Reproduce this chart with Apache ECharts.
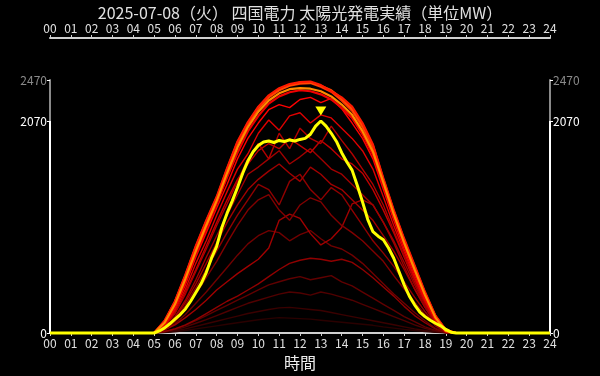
<!DOCTYPE html>
<html>
<head>
<meta charset="utf-8">
<script src="https://cdn.jsdelivr.net/npm/echarts@6/dist/echarts.min.js"></script>
<style>
html, body { margin: 0; padding: 0; background: #000; }
#chart { width: 600px; height: 376px; }
</style>
</head>
<body>
<div id="chart"></div>
<script>
var titleText = '2025-07-08（火） 四国電力 太陽光発電実績（単位MW）';
var yTop = 2470;

// 30分ごと (5:00 - 19:30)
var pastTimes = [5, 5.5, 6, 6.5, 7, 7.5, 8, 8.5, 9, 9.5, 10, 10.5, 11, 11.5, 12, 12.5,
    13, 13.5, 14, 14.5, 15, 15.5, 16, 16.5, 17, 17.5, 18, 18.5, 19, 19.5];

// 過去の実績 (暗い順)
var pastValues = [
    [0, 5, 12, 25, 40, 55, 70, 85, 100, 115, 130, 140, 150, 145, 140, 135, 125, 115, 105, 95, 85, 75, 60, 48, 35, 25, 15, 6, 1, 0],
    [0, 8, 20, 40, 65, 90, 115, 140, 165, 190, 210, 230, 245, 250, 240, 230, 220, 200, 180, 160, 140, 120, 100, 80, 60, 40, 25, 10, 1, 0],
    [0, 12, 30, 60, 95, 130, 170, 210, 250, 290, 320, 350, 380, 400, 390, 370, 400, 380, 350, 320, 280, 240, 200, 160, 120, 80, 45, 18, 2, 0],
    [0, 15, 40, 75, 120, 170, 220, 270, 320, 370, 420, 470, 500, 530, 550, 520, 540, 560, 500, 460, 400, 340, 280, 220, 160, 110, 60, 25, 2, 0],
    [0, 15, 40, 80, 130, 190, 250, 310, 360, 420, 480, 550, 620, 680, 710, 730, 720, 700, 720, 690, 620, 540, 450, 360, 260, 170, 100, 40, 3, 0],
    [0, 30, 90, 180, 290, 400, 520, 640, 760, 870, 950, 1000, 980, 900, 960, 1000, 920, 850, 820, 760, 680, 580, 480, 380, 290, 200, 120, 45, 4, 0],
    [0, 30, 80, 150, 230, 320, 420, 500, 580, 650, 720, 830, 1100, 1160, 1120, 970, 860, 920, 1030, 1260, 1300, 1250, 1080, 880, 650, 430, 250, 110, 15, 0],
    [0, 35, 110, 230, 380, 540, 700, 880, 1050, 1200, 1300, 1350, 1200, 1100, 1250, 1320, 1280, 1150, 1050, 980, 900, 800, 700, 560, 430, 300, 180, 70, 5, 0],
    [0, 40, 130, 270, 440, 620, 800, 980, 1150, 1300, 1450, 1400, 1250, 1480, 1550, 1400, 1300, 1420, 1350, 1200, 1050, 900, 780, 650, 500, 350, 210, 80, 5, 0],
    [0, 50, 150, 300, 480, 680, 880, 1080, 1250, 1400, 1500, 1580, 1650, 1560, 1480, 1620, 1550, 1450, 1400, 1300, 1200, 1100, 950, 800, 620, 430, 250, 90, 6, 0],
    [0, 50, 160, 320, 520, 740, 950, 1150, 1350, 1550, 1620, 1700, 1780, 1650, 1720, 1800, 1700, 1600, 1550, 1450, 1350, 1250, 1080, 900, 690, 470, 270, 100, 8, 0],
    [0, 70, 200, 400, 620, 850, 1080, 1300, 1500, 1650, 1780, 1850, 1800, 1900, 1830, 1760, 1880, 1800, 1700, 1650, 1560, 1400, 1200, 980, 740, 500, 290, 110, 10, 0],
    [0, 60, 190, 380, 600, 820, 1050, 1260, 1480, 1700, 1850, 1700, 1950, 1800, 2000, 1900, 1850, 2020, 1880, 1750, 1600, 1450, 1250, 1000, 760, 520, 300, 110, 10, 0],
    [0, 70, 220, 430, 680, 900, 1150, 1380, 1600, 1750, 1950, 2080, 1980, 2120, 2150, 2050, 2130, 2100, 2000, 1900, 1780, 1600, 1330, 1050, 790, 540, 310, 120, 12, 0],
    [0, 80, 240, 470, 740, 980, 1220, 1450, 1700, 1900, 2050, 2180, 2230, 2200, 2280, 2300, 2250, 2290, 2190, 2050, 1900, 1700, 1400, 1100, 820, 570, 330, 130, 15, 0],
    [0, 90, 260, 500, 770, 1020, 1260, 1520, 1760, 1970, 2120, 2240, 2310, 2350, 2370, 2360, 2330, 2280, 2200, 2100, 1940, 1740, 1440, 1140, 860, 600, 350, 140, 20, 0],
    [0, 110, 300, 555, 835, 1085, 1310, 1590, 1850, 2040, 2190, 2300, 2370, 2415, 2435, 2440, 2405, 2355, 2270, 2170, 2010, 1810, 1490, 1180, 900, 640, 385, 160, 25, 0],
    [0, 115, 305, 560, 840, 1090, 1320, 1600, 1860, 2050, 2200, 2310, 2380, 2420, 2445, 2445, 2415, 2370, 2290, 2190, 2030, 1830, 1500, 1190, 910, 650, 390, 165, 28, 0],
    [0, 120, 310, 570, 850, 1100, 1330, 1610, 1870, 2060, 2210, 2320, 2390, 2430, 2450, 2455, 2420, 2360, 2300, 2210, 2050, 1840, 1510, 1200, 920, 660, 400, 170, 30, 0],
    [0, 100, 280, 530, 800, 1050, 1290, 1560, 1810, 2010, 2160, 2270, 2340, 2380, 2390, 2385, 2360, 2310, 2230, 2130, 1970, 1770, 1470, 1160, 880, 620, 370, 150, 20, 0]
];
var pastColors = ['#2a0000', '#3a0000', '#500000', '#600000', '#900000', '#700000', '#a00000',
    '#800000', '#900000', '#a00000', '#a00000', '#c00000', '#b00000', '#dd0000', '#ff0000',
    '#ee0000', '#ff3300', '#ff5500', '#ff1a00', '#ff8c00'];

// 本日 (15分ごと)
var todayTimes = [0, 5, 5.25, 5.5, 5.75, 6, 6.25, 6.5, 6.75, 7, 7.25, 7.5, 7.75, 8, 8.25, 8.5, 8.75,
    9, 9.25, 9.5, 9.75, 10, 10.25, 10.5, 10.75, 11, 11.25, 11.5, 11.75, 12, 12.25, 12.5, 12.75,
    13, 13.25, 13.5, 13.75, 14, 14.25, 14.5, 14.75, 15, 15.25, 15.5, 15.75, 16, 16.25, 16.5, 16.75,
    17, 17.25, 17.5, 17.75, 18, 18.25, 18.5, 18.75, 19, 19.25, 19.5, 24];
var todayValues = [0, 0, 20, 50, 90, 135, 180, 235, 310, 395, 480, 590, 730, 845, 1030, 1170, 1290,
    1420, 1560, 1680, 1770, 1830, 1865, 1875, 1860, 1880, 1870, 1885, 1875, 1890, 1900, 1940, 2020,
    2070, 2020, 1950, 1870, 1760, 1670, 1590, 1440, 1280, 1110, 990, 945, 910, 830, 730, 600,
    470, 360, 275, 205, 160, 125, 95, 70, 35, 8, 0, 0];

var todayMax = Math.max.apply(null, todayValues);

function pairs(xs, ys) {
    var out = [];
    for (var i = 0; i < xs.length; i++) out.push([xs[i], ys[i]]);
    return out;
}
function hh(v) {
    return (v < 10 ? '0' : '') + v;
}

var chart = echarts.init(document.getElementById('chart'));

var series = [];
for (var i = 0; i < pastValues.length; i++) {
    var bright = i >= pastValues.length - 5;
    series.push({
        type: 'line',
        data: pairs(pastTimes, pastValues[i]),
        showSymbol: false,
        silent: true,
        lineStyle: { color: pastColors[i], width: bright ? 2.2 : 1.4 },
        z: 2
    });
}
series.push({
    type: 'line',
    data: pairs(todayTimes, todayValues),
    showSymbol: false,
    clip: false,
    lineStyle: { color: '#ffff00', width: 3 },
    z: 5,
    markPoint: {
        symbol: 'triangle',
        symbolRotate: 180,
        symbolSize: [11, 9],
        symbolOffset: [0, -10],
        itemStyle: { color: '#ffff00' },
        label: { show: false },
        data: [{ type: 'max' }]
    },
    markLine: {
        symbol: 'none',
        silent: true,
        label: { show: false },
        lineStyle: { color: '#ffffff', width: 2, type: 'solid' },
        data: [
            [{ coord: [0, 0] }, { coord: [0, todayMax] }],
            [{ coord: [24, 0] }, { coord: [24, todayMax] }]
        ]
    }
});

function yLabel(v) {
    return v === yTop ? '{g|' + v + '}' : '{w|' + v + '}';
}
var yRich = {
    g: { color: '#8a8a8a', fontSize: 12 },
    w: { color: '#ffffff', fontSize: 12 }
};

function makeX(extra) {
    var ax = {
        type: 'value',
        min: 0,
        max: 24,
        interval: 1,
        axisLine: { onZero: false, lineStyle: { color: '#d0d0d0', width: 2 } },
        axisTick: { length: 3, lineStyle: { color: '#d0d0d0' } },
        axisLabel: { color: '#e0e0e0', fontSize: 12, margin: 4, formatter: hh },
        splitLine: { show: false }
    };
    for (var k in extra) ax[k] = extra[k];
    return ax;
}
function makeY(pos) {
    return {
        type: 'value', min: 0, max: yTop, position: pos,
        axisLine: { show: true, onZero: false, lineStyle: { color: '#8a8a8a', width: 2 } },
        axisTick: { show: true, length: 3, customValues: [0, todayMax, yTop], lineStyle: { color: '#ffffff' } },
        axisLabel: { margin: 3, customValues: [0, todayMax, yTop], formatter: yLabel, rich: yRich },
        splitLine: { show: false }
    };
}

var option = {
    backgroundColor: '#000',
    animation: false,
    textStyle: { fontFamily: 'Noto Sans CJK JP' },
    title: {
        text: titleText,
        left: 'center',
        top: 0,
        textStyle: { color: '#e0e0e0', fontSize: 16, fontWeight: 'normal', fontFamily: 'Noto Sans CJK JP' }
    },
    grid: { left: 50, right: 50, top: 80, bottom: 38 },
    xAxis: [
        makeX({
            position: 'bottom',
            name: '時間',
            nameLocation: 'middle',
            nameGap: 22,
            nameTextStyle: { color: '#f0f0f0', fontSize: 16 }
        }),
        makeX({ position: 'top', offset: 42 })
    ],
    yAxis: [makeY('left'), makeY('right')],
    series: series
};
chart.setOption(option);
window.onresize = chart.resize;
</script>
</body>
</html>
